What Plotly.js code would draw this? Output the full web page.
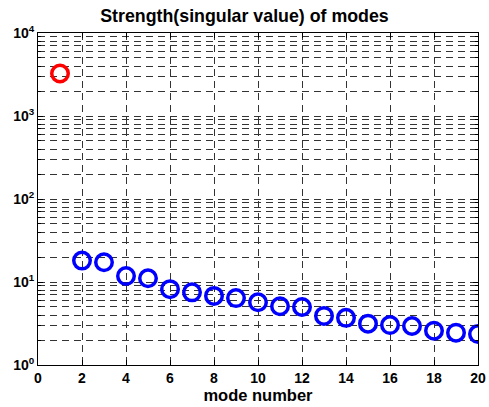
<!DOCTYPE html>
<html>
<head>
<meta charset="utf-8">
<script src="https://cdn.plot.ly/plotly-3.0.1.min.js"></script>
<style>html,body{margin:0;padding:0;background:#fff;}#chart{width:489px;height:407px;}</style>
</head>
<body>
<div id="chart"></div>
<script>
const modeFirst = [1];
const strengthFirst = [3250];
const modesRest = [2,3,4,5,6,7,8,9,10,11,12,13,14,15,16,17,18,19,20];
const strengthRest = [18.1,17.3,11.8,11.1,8.2,7.5,6.8,6.4,5.7,5.1,5.0,3.9,3.7,3.15,3.03,2.95,2.59,2.45,2.36];
const xTicks = [0,2,4,6,8,10,12,14,16,18,20];
const yTicks = [1,10,100,1000,10000];
const yTickText = ['10<sup>0</sup>','10<sup>1</sup>','10<sup>2</sup>','10<sup>3</sup>','10<sup>4</sup>'];

const minorVals = [];
for (let d = 0; d < 4; d++) for (let k = 2; k <= 9; k++) minorVals.push(k * Math.pow(10, d));

const fam = 'Arial, "Liberation Sans", sans-serif';
const tickFont = {family: fam, size: 14, color: '#000', weight: 'bold'};
const labelFont = {family: fam, size: 16.5, color: '#000', weight: 'bold'};
const titleFont = {family: fam, size: 17.8, color: '#000', weight: 'bold'};
const gridDash = '7px,5px';
const gridColor = '#333';

const traces = [
  {x: modeFirst, y: strengthFirst, type: 'scatter', mode: 'markers',
   marker: {symbol: 'circle-open', size: 16.5, color: '#ff0000', line: {width: 3.5, color: '#ff0000'}}},
  {x: modesRest, y: strengthRest, type: 'scatter', mode: 'markers',
   marker: {symbol: 'circle-open', size: 16.5, color: '#0000ff', line: {width: 3.5, color: '#0000ff'}}}
];

const layout = {
  width: 489, height: 407,
  margin: {l: 38, r: 11, t: 33, b: 42},
  paper_bgcolor: '#fff', plot_bgcolor: '#fff',
  showlegend: false,
  font: tickFont,
  title: {text: 'Strength(singular value) of modes', font: titleFont, x: 0.5, xref: 'container', xanchor: 'center',
          y: 1 - 16/407, yref: 'container', yanchor: 'middle'},
  xaxis: {
    range: [0, 20], tickmode: 'array', tickvals: xTicks, ticktext: xTicks.map(String),
    showline: true, linecolor: '#000', linewidth: 1, mirror: 'ticks',
    ticks: 'inside', ticklen: 5, tickcolor: '#000',
    showgrid: true, gridcolor: gridColor, gridwidth: 1, griddash: gridDash,
    zeroline: false, tickfont: tickFont,
    title: {text: 'mode number', font: labelFont, standoff: 3}
  },
  yaxis: {
    type: 'log', range: [0, 4], tickmode: 'array', tickvals: yTicks, ticktext: yTickText,
    showline: true, linecolor: '#000', linewidth: 1, mirror: 'ticks',
    ticks: 'inside', ticklen: 5, tickcolor: '#000',
    showgrid: true, gridcolor: gridColor, gridwidth: 1, griddash: gridDash,
    zeroline: false, tickfont: tickFont,
    minor: {tickmode: 'array', tickvals: minorVals, ticks: 'inside', ticklen: 3, tickcolor: '#000',
            showgrid: true, gridcolor: gridColor, gridwidth: 1, griddash: gridDash}
  }
};

Plotly.newPlot('chart', traces, layout, {displayModeBar: false, staticPlot: true});
</script>
</body>
</html>
